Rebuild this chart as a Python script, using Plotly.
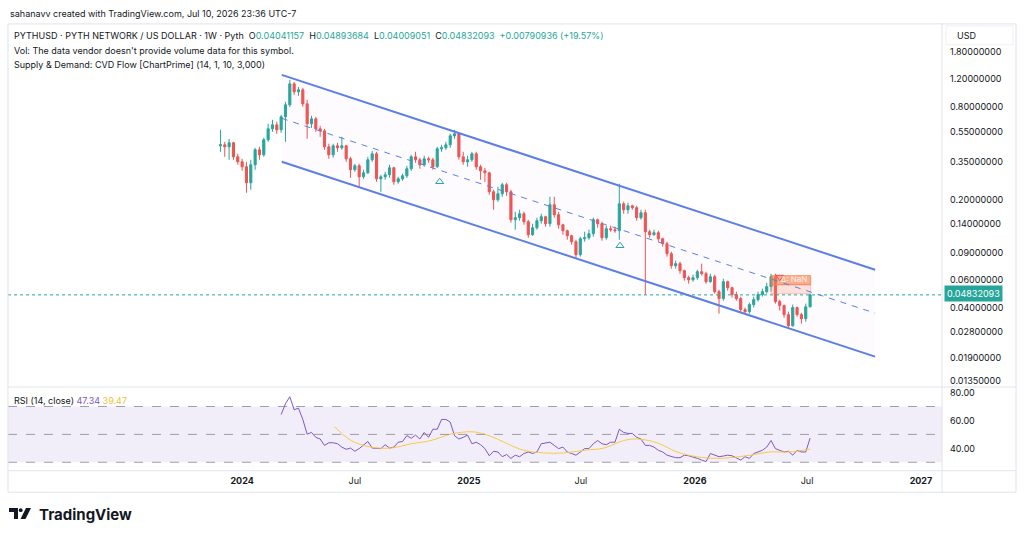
import pandas as pd
import plotly.graph_objects as go

W, H = 1024, 537

# ---------------- data ----------------
close = [0.4513, 0.4381, 0.4649, 0.3775, 0.3505, 0.3254, 0.2564, 0.3352, 0.4190, 0.3889,
         0.4862, 0.5726, 0.6076, 0.5641, 0.6844, 0.8182, 1.1182, 0.9928, 1.0227, 0.8305,
         0.6168, 0.6644, 0.5726, 0.5558, 0.4381, 0.3889, 0.4446, 0.4316, 0.4446, 0.3665,
         0.3112, 0.3302, 0.2803, 0.2975, 0.3611, 0.3948, 0.2721, 0.2803, 0.2888, 0.3206,
         0.2603, 0.2721, 0.2845, 0.3158, 0.3775, 0.3611, 0.3352, 0.3665, 0.3611, 0.3254,
         0.4252, 0.4316, 0.4513, 0.5159, 0.5316, 0.3775, 0.3505, 0.3611, 0.3948, 0.3254,
         0.3066, 0.2975, 0.2243, 0.1991, 0.2177, 0.2489, 0.2243, 0.1479, 0.1524, 0.1617,
         0.1436, 0.1183, 0.1313, 0.1457, 0.1547, 0.1394, 0.1849, 0.1593, 0.1373, 0.1256,
         0.1166, 0.1066, 0.0879, 0.1115, 0.1131, 0.1201, 0.1479, 0.1394, 0.1131, 0.1294,
         0.1275, 0.1256, 0.1876, 0.1716, 0.1821, 0.1768, 0.1524, 0.1641, 0.1237, 0.1183,
         0.1219, 0.1115, 0.1035, 0.0892, 0.0746, 0.0769, 0.0693, 0.0624, 0.0605, 0.0624,
         0.0682, 0.0662, 0.0588, 0.0633, 0.0507, 0.0457, 0.0588, 0.0538, 0.0485, 0.0457,
         0.0388, 0.0376, 0.0418, 0.0450, 0.0485, 0.0507, 0.0546, 0.0633, 0.0437, 0.0412,
         0.0360, 0.0305, 0.0400, 0.0360, 0.0339, 0.04041157, 0.04832093]

open_ = [0.4446, 0.4513, 0.4381, 0.4649, 0.3775, 0.3505, 0.3254, 0.2564, 0.3352, 0.4190,
         0.3889, 0.4862, 0.5726, 0.6076, 0.5641, 0.6844, 0.8182, 1.1182, 0.9928, 1.0227,
         0.8305, 0.6168, 0.6644, 0.5726, 0.5558, 0.4381, 0.3889, 0.4446, 0.4316, 0.4446,
         0.3665, 0.3112, 0.3302, 0.2803, 0.2975, 0.3611, 0.3948, 0.2721, 0.2803, 0.2888,
         0.3206, 0.2603, 0.2721, 0.2845, 0.3158, 0.3775, 0.3611, 0.3352, 0.3665, 0.3611,
         0.3254, 0.4252, 0.4316, 0.4513, 0.5159, 0.5316, 0.3775, 0.3505, 0.3611, 0.3948,
         0.3254, 0.3066, 0.2975, 0.2243, 0.1991, 0.2177, 0.2489, 0.2243, 0.1479, 0.1524,
         0.1617, 0.1436, 0.1183, 0.1313, 0.1457, 0.1547, 0.1394, 0.1849, 0.1593, 0.1373,
         0.1256, 0.1166, 0.1066, 0.0879, 0.1115, 0.1131, 0.1201, 0.1479, 0.1394, 0.1131,
         0.1294, 0.1275, 0.1256, 0.1876, 0.1716, 0.1821, 0.1768, 0.1524, 0.1641, 0.1237,
         0.1183, 0.1219, 0.1115, 0.1035, 0.0892, 0.0746, 0.0769, 0.0693, 0.0624, 0.0605,
         0.0624, 0.0682, 0.0662, 0.0588, 0.0633, 0.0507, 0.0457, 0.0588, 0.0538, 0.0485,
         0.0457, 0.0388, 0.0376, 0.0418, 0.0450, 0.0485, 0.0507, 0.0546, 0.0633, 0.0437,
         0.0412, 0.0360, 0.0305, 0.0400, 0.0360, 0.0339, 0.04041157]

high = [0.5641, 0.4719, 0.4934, 0.4719, 0.3948, 0.3665, 0.3505, 0.3611, 0.4316, 0.4381,
        0.5008, 0.6168, 0.6546, 0.6354, 0.7051, 0.8556, 1.1868, 1.1520, 1.0694, 1.0536,
        0.8814, 0.6947, 0.6844, 0.5987, 0.5726, 0.4581, 0.4581, 0.4649, 0.5083, 0.4513,
        0.3775, 0.3402, 0.3402, 0.3112, 0.3775, 0.4128, 0.4067, 0.2888, 0.3020, 0.3352,
        0.3254, 0.2803, 0.2931, 0.3302, 0.3889, 0.4067, 0.3720, 0.3832, 0.3775, 0.3720,
        0.4381, 0.4513, 0.4719, 0.5316, 0.5641, 0.5395, 0.4067, 0.3832, 0.4067, 0.4067,
        0.3352, 0.3206, 0.3020, 0.2311, 0.2416, 0.2564, 0.2564, 0.2311, 0.1666, 0.1716,
        0.1666, 0.1479, 0.1394, 0.1524, 0.1617, 0.1570, 0.2082, 0.2082, 0.1666, 0.1394,
        0.1275, 0.1183, 0.1098, 0.1148, 0.1237, 0.1275, 0.1524, 0.1501, 0.1436, 0.1353,
        0.1353, 0.1333, 0.2527, 0.1933, 0.1904, 0.1849, 0.1821, 0.1716, 0.1716, 0.1275,
        0.1275, 0.1256, 0.1131, 0.1066, 0.0919, 0.0804, 0.0792, 0.0703, 0.0643, 0.0652,
        0.0703, 0.0769, 0.0682, 0.0662, 0.0652, 0.0522, 0.0615, 0.0597, 0.0546, 0.0507,
        0.0471, 0.0400, 0.0431, 0.0471, 0.0507, 0.0530, 0.0579, 0.0662, 0.0662, 0.0450,
        0.0418, 0.0376, 0.0418, 0.0406, 0.0370, 0.0424, 0.04893684]

low = [0.4067, 0.3775, 0.3611, 0.3611, 0.3352, 0.3066, 0.2210, 0.2311, 0.3112, 0.3611,
       0.3775, 0.4719, 0.5476, 0.5316, 0.5395, 0.4719, 0.7943, 0.9494, 0.9354, 0.7943,
       0.4934, 0.5811, 0.5476, 0.5083, 0.4190, 0.3665, 0.3720, 0.4067, 0.4190, 0.3505,
       0.2762, 0.3020, 0.2416, 0.2721, 0.2931, 0.3505, 0.2603, 0.2243, 0.2681, 0.2762,
       0.2489, 0.2527, 0.2642, 0.2762, 0.3066, 0.3453, 0.3158, 0.3254, 0.3453, 0.3112,
       0.3206, 0.4067, 0.4190, 0.4316, 0.4934, 0.3611, 0.3352, 0.3254, 0.3505, 0.3112,
       0.2681, 0.2603, 0.2145, 0.1716, 0.1933, 0.2082, 0.2113, 0.1415, 0.1275, 0.1457,
       0.1373, 0.1131, 0.1166, 0.1275, 0.1394, 0.1333, 0.1333, 0.1524, 0.1294, 0.1183,
       0.1098, 0.1019, 0.0828, 0.0853, 0.1066, 0.1098, 0.1148, 0.1313, 0.1082, 0.1098,
       0.1237, 0.1219, 0.1098, 0.1617, 0.1617, 0.1716, 0.1457, 0.1479, 0.0485, 0.1131,
       0.1166, 0.1066, 0.0990, 0.0853, 0.0714, 0.0714, 0.0662, 0.0597, 0.0571, 0.0588,
       0.0605, 0.0643, 0.0571, 0.0579, 0.0492, 0.0365, 0.0443, 0.0514, 0.0464, 0.0443,
       0.0376, 0.0365, 0.0365, 0.0400, 0.0437, 0.0471, 0.0492, 0.0507, 0.0424, 0.0382,
       0.0344, 0.0296, 0.0301, 0.0349, 0.0315, 0.0324, 0.04009051]

dates = pd.date_range(end="2026-07-06", periods=len(close), freq="W-MON")

rsi = [64.2, 72.0, 77.0, 67.7, 68.8, 60.7, 50.2, 51.4, 47.9, 46.7,
       42.1, 44.0, 44.0, 43.3, 40.9, 39.3, 40.2, 37.9, 39.8, 42.1,
       44.9, 40.2, 40.2, 39.8, 42.6, 40.2, 40.9, 44.4, 44.9, 49.1,
       47.2, 49.5, 46.7, 51.4, 47.9, 53.7, 53.7, 60.7, 60.7, 58.8,
       49.1, 46.7, 47.9, 49.5, 43.3, 44.4, 42.6, 39.8, 34.7, 37.9,
       37.4, 34.0, 35.6, 32.8, 35.1, 34.0, 36.3, 37.4, 36.3, 37.4,
       43.3, 44.0, 44.4, 42.1, 39.8, 40.9, 37.4, 36.3, 35.1, 37.4,
       39.8, 39.8, 43.3, 45.6, 43.3, 42.6, 44.4, 44.4, 53.7, 51.4,
       50.7, 50.7, 47.9, 46.7, 42.1, 42.1, 40.9, 38.6, 37.4, 35.1,
       34.0, 33.3, 33.3, 35.1, 34.7, 34.0, 32.8, 31.6, 30.5, 36.3,
       35.1, 34.0, 34.5, 35.1, 34.7, 33.3, 31.6, 34.0, 32.8, 36.3,
       37.4, 38.6, 40.9, 45.6, 39.8, 38.6, 37.4, 37.9, 35.1, 38.6,
       37.4, 37.4, 47.34]
rsi_dates = dates[-len(rsi):]

ma_dates = ["2024-05-29", "2024-06-25", "2024-07-27", "2024-08-28", "2024-09-30",
            "2024-11-01", "2024-12-03", "2025-01-05", "2025-01-26", "2025-02-16",
            "2025-03-10", "2025-03-31", "2025-05-02", "2025-06-03", "2025-07-06",
            "2025-08-07", "2025-09-08", "2025-09-30", "2025-11-01", "2025-12-03",
            "2026-01-04", "2026-02-05", "2026-02-27", "2026-03-31", "2026-05-02",
            "2026-06-03", "2026-07-06"]
ma_vals = [55.6, 45.6, 40.9, 40.2, 43.3, 45.6, 50.2, 51.9, 50.2, 46.7,
           42.1, 38.6, 36.7, 36.7, 38.6, 40.2, 45.6, 46.7, 44.0, 37.4,
           34.0, 32.8, 33.3, 35.1, 37.4, 37.4, 39.47]

# channel drawing (start / end)
chan_dates = ["2024-03-05", "2026-10-19"]
chan_upper = [1.278, 0.0703]
chan_mid = [0.6692, 0.0368]
chan_lower = [0.3505, 0.01928]

# supply zone box
zone_dates = ["2026-05-04", "2026-07-07"]
zone_top, zone_mid, zone_bot = 0.0643, 0.0562, 0.0492

signal_dates = ["2024-11-15", "2025-09-02"]
signal_vals = [0.2603, 0.1004]

last_price = 0.04832093
x_range = ["2022-12-19", "2027-02-04"]

price_ticks = [1.8, 1.2, 0.8, 0.55, 0.35, 0.2, 0.14, 0.09, 0.06, 0.04, 0.028, 0.019, 0.0135]
time_ticks = ["2024-01-01", "2024-07-01", "2025-01-01", "2025-07-01", "2026-01-01", "2026-07-01", "2027-01-01"]
time_labels = ["<b>2024</b>", "Jul", "<b>2025</b>", "Jul", "<b>2026</b>", "Jul", "<b>2027</b>"]

UP, DOWN = "#26a69a", "#ef5350"
FONT = "Inter"
TXT = "#131722"

def px(x):
    return x / W

def py(y):
    return 1 - y / H

fig = go.Figure()

# channel fill
fig.add_trace(go.Scatter(
    x=[chan_dates[0], chan_dates[1], chan_dates[1], chan_dates[0], chan_dates[0]],
    y=[chan_upper[0], chan_upper[1], chan_lower[1], chan_lower[0], chan_upper[0]],
    fill="toself", fillcolor="rgba(214,140,214,0.035)", line=dict(width=0),
    mode="lines", hoverinfo="skip", showlegend=False, xaxis="x", yaxis="y"))

# last price dotted line
fig.add_trace(go.Scatter(x=x_range, y=[last_price, last_price], mode="lines",
                         line=dict(color=UP, width=1, dash="dot"), hoverinfo="skip",
                         showlegend=False, xaxis="x", yaxis="y"))

# supply zone
fig.add_trace(go.Scatter(
    x=[zone_dates[0], zone_dates[1], zone_dates[1], zone_dates[0], zone_dates[0]],
    y=[zone_top, zone_top, zone_mid, zone_mid, zone_top], fill="toself",
    fillcolor="rgba(246,128,72,0.62)", line=dict(width=1, color="rgba(246,128,72,0.8)"),
    mode="lines", hoverinfo="skip", showlegend=False))
fig.add_trace(go.Scatter(
    x=[zone_dates[0], zone_dates[1], zone_dates[1], zone_dates[0], zone_dates[0]],
    y=[zone_mid, zone_mid, zone_bot, zone_bot, zone_mid], fill="toself",
    fillcolor="rgba(246,128,100,0.22)", line=dict(width=1, color="rgba(246,128,100,0.35)"),
    mode="lines", hoverinfo="skip", showlegend=False))

# channel lines
fig.add_trace(go.Scatter(x=chan_dates, y=chan_upper, mode="lines",
                         line=dict(color="#5b7fe3", width=2), hoverinfo="skip", showlegend=False))
fig.add_trace(go.Scatter(x=chan_dates, y=chan_lower, mode="lines",
                         line=dict(color="#5b7fe3", width=2), hoverinfo="skip", showlegend=False))
fig.add_trace(go.Scatter(x=chan_dates, y=chan_mid, mode="lines",
                         line=dict(color="#5b7fe3", width=1, dash="6px,6px"), hoverinfo="skip",
                         showlegend=False))

# candles
fig.add_trace(go.Candlestick(
    x=dates, open=open_, high=high, low=low, close=close,
    increasing=dict(line=dict(color=UP, width=1), fillcolor=UP),
    decreasing=dict(line=dict(color=DOWN, width=1), fillcolor=DOWN),
    whiskerwidth=0, hoverinfo="skip", showlegend=False, xaxis="x", yaxis="y"))

# signals
fig.add_trace(go.Scatter(x=signal_dates, y=signal_vals, mode="markers",
                         marker=dict(symbol="triangle-up-open", size=7, color=UP, line=dict(width=1)),
                         hoverinfo="skip", showlegend=False))
fig.add_trace(go.Scatter(x=["2026-05-18"], y=[0.0630], mode="markers",
                         marker=dict(symbol="triangle-down-open", size=7, color="#ef5350",
                                     line=dict(width=1)),
                         hoverinfo="skip", showlegend=False))
fig.add_trace(go.Scatter(x=["2026-06-10"], y=[0.0602], mode="text", text=["Δ: NaN"],
                         textfont=dict(family=FONT, size=8, color="rgba(255,255,255,0.8)"),
                         hoverinfo="skip", showlegend=False))

# RSI pane
fig.add_trace(go.Scatter(x=rsi_dates, y=rsi, mode="lines", line=dict(color="#7e57c2", width=1),
                         hoverinfo="skip", showlegend=False, xaxis="x", yaxis="y2"))
fig.add_trace(go.Scatter(x=ma_dates, y=ma_vals, mode="lines",
                         line=dict(color="#f7c948", width=1, shape="spline", smoothing=1.0),
                         hoverinfo="skip", showlegend=False, xaxis="x", yaxis="y2"))

shapes = []
# rsi band
shapes.append(dict(type="rect", xref="x domain", yref="y2", x0=0, x1=1, y0=30, y1=70,
                   fillcolor="rgba(126,87,194,0.1)", line=dict(width=0), layer="below"))
for lv in (70, 50, 30):
    shapes.append(dict(type="line", xref="x domain", yref="y2", x0=0, x1=1, y0=lv, y1=lv,
                       line=dict(color="rgba(120,123,134,0.7)", width=1, dash="dash")))
# frame lines
border = "#e0e3eb"
shapes.append(dict(type="rect", xref="paper", yref="paper", x0=px(8), x1=px(1016),
                   y0=py(492), y1=py(22), line=dict(color=border, width=1)))
shapes.append(dict(type="line", xref="paper", yref="paper", x0=px(942), x1=px(942),
                   y0=py(492), y1=py(22), line=dict(color=border, width=1)))
shapes.append(dict(type="line", xref="paper", yref="paper", x0=px(8), x1=px(1016),
                   y0=py(386.5), y1=py(386.5), line=dict(color=border, width=1)))
shapes.append(dict(type="line", xref="paper", yref="paper", x0=px(8), x1=px(1016),
                   y0=py(470.5), y1=py(470.5), line=dict(color=border, width=1)))
# USD box
shapes.append(dict(type="rect", xref="paper", yref="paper", x0=px(946), x1=px(1013),
                   y0=py(43), y1=py(24), line=dict(color="#eef0f4", width=1)))
# TradingView logo icon
shapes.append(dict(type="path", xref="paper", yref="paper",
                   path=f"M {px(9)} {py(508)} L {px(18)} {py(508)} L {px(18)} {py(519)} L {px(14)} {py(519)} L {px(14)} {py(512)} L {px(9)} {py(512)} Z",
                   fillcolor="#131722", line=dict(width=0)))
shapes.append(dict(type="circle", xref="paper", yref="paper", x0=px(18.8), x1=px(22.6),
                   y0=py(512), y1=py(508.2), fillcolor="#131722", line=dict(width=0)))
shapes.append(dict(type="path", xref="paper", yref="paper",
                   path=f"M {px(26)} {py(508)} L {px(31)} {py(508)} L {px(25.5)} {py(519)} L {px(20.5)} {py(519)} Z",
                   fillcolor="#131722", line=dict(width=0)))

nb = "\u00a0"
def col(t, c):
    return f"<span style='color:{c}'>{t}</span>"

line1 = ("PYTHUSD · PYTH NETWORK / US DOLLAR · 1W · Pyth" + nb * 2 +
         "O" + col("0.04041157", UP) + nb * 2 + "H" + col("0.04893684", UP) + nb * 2 +
         "L" + col("0.04009051", UP) + nb * 2 + "C" + col("0.04832093", UP) + nb * 2 +
         col("+0.00790936 (+19.57%)", UP))

annotations = [
    dict(x=px(8), y=py(12), text="sahanavv created with TradingView.com, Jul 10, 2026 23:36 UTC-7",
         font=dict(size=9, color=TXT)),
    dict(x=px(12), y=py(34), text=line1, font=dict(size=9, color=TXT)),
    dict(x=px(12), y=py(48.5), text="Vol: The data vendor doesn't provide volume data for this symbol.",
         font=dict(size=9, color=TXT)),
    dict(x=px(12), y=py(63), text="Supply & Demand: CVD Flow [ChartPrime] (14, 1, 10, 3,000)",
         font=dict(size=9, color=TXT)),
    dict(x=px(12), y=py(400), text="RSI (14, close)" + nb + col("47.34", "#7e57c2") + nb +
         col("39.47", "#f0c040"), font=dict(size=9, color=TXT)),
    dict(x=px(955), y=py(33.5), text="USD", font=dict(size=9, color=TXT)),
    dict(x=px(943.5), y=py(293), text="0.04832093", font=dict(size=9, color="white"),
         bgcolor=UP, borderpad=2),
    dict(x=px(37), y=py(514), text="<b>TradingView</b>", font=dict(size=15, color="#131722")),
]
for a in annotations:
    a.update(xref="paper", yref="paper", xanchor="left", yanchor="middle", showarrow=False)
    a["font"]["family"] = FONT

fig.update_layout(
    width=W, height=H, margin=dict(l=0, r=0, t=0, b=0),
    paper_bgcolor="white", plot_bgcolor="white",
    font=dict(family=FONT, size=9, color=TXT),
    showlegend=False, hovermode=False,
    xaxis=dict(domain=[px(8), px(942)], range=x_range, type="date", anchor="y2",
               tickvals=time_ticks, ticktext=time_labels, showgrid=False, zeroline=False,
               showline=False, ticks="", rangeslider=dict(visible=False),
               ticklabelstandoff=4, tickfont=dict(family=FONT, size=9, color=TXT)),
    yaxis=dict(domain=[py(386), py(22)], type="log", range=[-1.9088, 0.4362], side="right",
               anchor="x", tickvals=price_ticks, ticktext=[f"{v:.8f}" for v in price_ticks],
               showgrid=False, zeroline=False, showline=False, ticks="",
               ticklabelstandoff=7, tickfont=dict(family=FONT, size=9, color=TXT)),
    yaxis2=dict(domain=[py(470), py(388)], range=[24.3, 82.86], side="right", anchor="x",
                tickvals=[40, 60, 80], ticktext=["40.00", "60.00", "80.00"],
                showgrid=False, zeroline=False, showline=False, ticks="",
                ticklabelstandoff=7, tickfont=dict(family=FONT, size=9, color=TXT)),
    shapes=shapes, annotations=annotations,
)

fig.write_html("out.html")
